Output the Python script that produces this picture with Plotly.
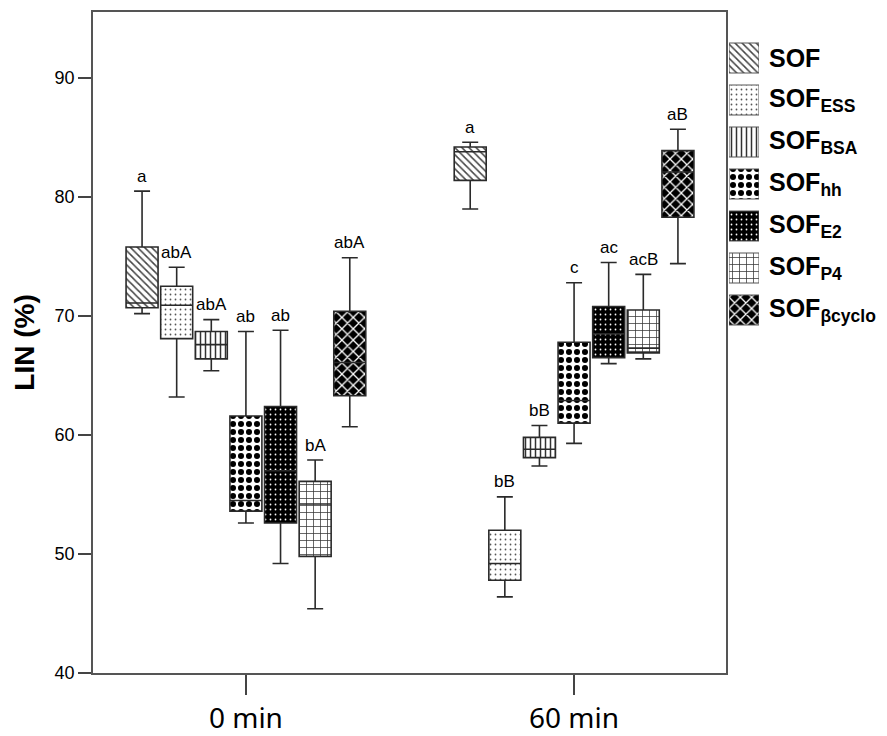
import plotly.graph_objects as go

categories = ["0 min", "60 min"]
series_names = ["SOF", "SOF<sub>ESS</sub>", "SOF<sub>BSA</sub>", "SOF<sub>hh</sub>",
                "SOF<sub>E2</sub>", "SOF<sub>P4</sub>", "SOF<sub>βcyclo</sub>"]

# box statistics per series: [0 min, 60 min]
lower_whisker = [[70.2, 79.0], [63.2, 46.4], [65.4, 57.4], [52.6, 59.3], [49.2, 66.0], [45.4, 66.4], [60.7, 74.4]]
q1_values     = [[70.7, 81.4], [68.1, 47.8], [66.4, 58.1], [53.6, 61.0], [52.6, 66.5], [49.8, 66.9], [63.3, 78.3]]
median_values = [[71.1, 83.8], [70.9, 49.2], [67.6, 58.8], [54.5, 62.9], [57.0, 68.5], [54.2, 67.3], [66.1, 82.1]]
q3_values     = [[75.8, 84.2], [72.5, 52.0], [68.7, 59.8], [61.6, 67.8], [62.4, 70.8], [56.1, 70.5], [70.4, 83.9]]
upper_whisker = [[80.5, 84.6], [74.1, 54.8], [69.7, 60.8], [68.7, 72.8], [68.8, 74.5], [57.9, 73.5], [74.9, 85.7]]
letters = [["a", "a"], ["abA", "bB"], ["abA", "bB"], ["ab", "c"], ["ab", "ac"], ["bA", "acB"], ["abA", "aB"]]

y_ticks = [40, 50, 60, 70, 80, 90]

# styles
patterns = [
    dict(shape="\\", fgcolor="#444444", bgcolor="white", size=5, solidity=0.3, fgopacity=1),
    dict(shape=".", fgcolor="#555555", bgcolor="white", size=5, solidity=0.1, fgopacity=1),
    dict(shape="|", fgcolor="#333333", bgcolor="white", size=5, solidity=0.3, fgopacity=1),
    dict(shape=".", fgcolor="black", bgcolor="white", size=8, solidity=0.45, fgopacity=1),
    dict(shape=".", fgcolor="white", bgcolor="black", size=5, solidity=0.1, fgopacity=1),
    dict(shape="+", fgcolor="#333333", bgcolor="white", size=7, solidity=0.2, fgopacity=1),
    dict(shape="x", fgcolor="white", bgcolor="black", size=8, solidity=0.3, fgopacity=1),
]

n = len(series_names)
slot = 0.1055
box_w = 0.0975

fig = go.Figure()
for i in range(n):
    xs = [c + (i - (n - 1) / 2) * slot for c in range(len(categories))]
    heights = [q3_values[i][k] - q1_values[i][k] for k in range(len(categories))]
    fig.add_trace(go.Bar(
        x=xs, y=heights, base=q1_values[i], width=box_w,
        marker=dict(color=patterns[i]["bgcolor"], line=dict(width=0), pattern=patterns[i]),
        showlegend=False, hoverinfo="skip", xaxis="x", yaxis="y"))
    fig.add_trace(go.Box(
        x=xs, q1=q1_values[i], median=median_values[i], q3=q3_values[i],
        lowerfence=lower_whisker[i], upperfence=upper_whisker[i],
        width=box_w, whiskerwidth=0.5, boxpoints=False,
        fillcolor="rgba(0,0,0,0)", line=dict(color="#2a2a2a", width=1.6),
        showlegend=False, name=series_names[i], xaxis="x", yaxis="y"))
    for k in range(len(categories)):
        fig.add_annotation(x=xs[k], y=upper_whisker[i][k], xref="x", yref="y",
                           text=letters[i][k], showarrow=False, yshift=15,
                           font=dict(family="Liberation Sans, Arial", size=17, color="black"))

# custom legend drawn on a second pair of axes
for i in range(n):
    fig.add_trace(go.Bar(
        x=[1], y=[i], base=[0], orientation="h", width=30 / 42,
        marker=dict(color=patterns[i]["bgcolor"], line=dict(width=1, color="#555555"),
                    pattern=patterns[i]),
        showlegend=False, hoverinfo="skip", xaxis="x2", yaxis="y2"))
    fig.add_annotation(x=(767 - 93) / 794, y=i, xref="paper", yref="y2",
                       text="<b>" + series_names[i] + "</b>", showarrow=False,
                       xanchor="left", yanchor="middle",
                       font=dict(family="Liberation Sans, Arial", size=25, color="black"))

# the page body adds an 8px offset, so the figure is laid out 8px smaller
fig.update_layout(
    width=879, height=728,
    margin=dict(l=85, r=0, t=4, b=63, autoexpand=False),
    plot_bgcolor="white", paper_bgcolor="white",
    barmode="overlay", boxmode="overlay",
    xaxis=dict(domain=[0, (726 - 93) / 794], range=[-0.466, 1.463], automargin=False,
               tickvals=list(range(len(categories))), ticktext=categories,
               ticks="outside", ticklen=20, tickcolor="#444444", tickwidth=1.5,
               showline=True, mirror=True, linecolor="#555555", linewidth=1.5,
               showgrid=False, zeroline=False,
               tickfont=dict(family="Noto Sans", size=28, color="black")),
    yaxis=dict(range=[40, 95.55], tickvals=y_ticks, automargin=False,
               ticks="outside", ticklen=13, tickcolor="#444444", tickwidth=1.5,
               showline=True, mirror=True, linecolor="#555555", linewidth=1.5,
               showgrid=False, zeroline=False,
               tickfont=dict(family="Liberation Sans, Arial", size=18, color="black"),
               title=dict(text="<b>LIN (%)</b>", standoff=12,
                          font=dict(family="Liberation Sans, Arial", size=28, color="black"))),
    xaxis2=dict(domain=[(729 - 93) / 794, (759 - 93) / 794], range=[0, 1], visible=False,
                anchor="y2"),
    yaxis2=dict(domain=[(673 - 331) / 661, (673 - 37) / 661], range=[6.5, -0.5], visible=False,
                anchor="x2"),
)

fig.write_html("out.html")
